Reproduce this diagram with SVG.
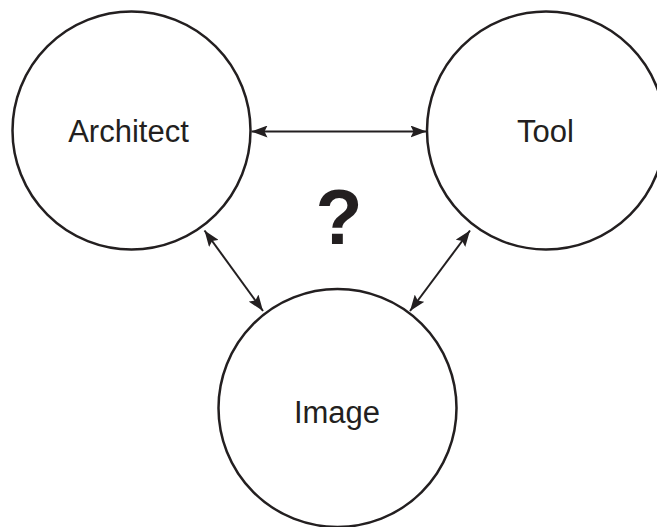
<svg xmlns="http://www.w3.org/2000/svg" width="657" height="527" viewBox="0 0 657 527">
<style>
.node{fill:#fff;stroke:#231f20;stroke-width:2.5}
.lbl{font-family:"Liberation Sans",Arial,sans-serif;font-size:31px;fill:#231f20;text-anchor:middle}
.conn{stroke:#231f20;stroke-width:2;fill:none;marker-start:url(#ah);marker-end:url(#ah)}
</style>
<defs>
<marker id="ah" viewBox="0 0 16 12" refX="16" refY="6" markerWidth="16" markerHeight="12" markerUnits="userSpaceOnUse" orient="auto-start-reverse">
<path d="M0,0 L16,6 L0,12 L3,6 Z" fill="#231f20"/>
</marker>
</defs>
<rect width="657" height="527" fill="#fff"/>
<g id="architect">
<circle class="node" cx="131.5" cy="130.5" r="119"/>
<text class="lbl" x="128.5" y="141.5">Architect</text>
</g>
<g id="tool">
<circle class="node" cx="546" cy="130.5" r="119"/>
<text class="lbl" x="545.5" y="141.5">Tool</text>
</g>
<g id="image">
<circle class="node" cx="337.5" cy="408" r="119"/>
<text class="lbl" x="337" y="423">Image</text>
</g>
<g id="connectors">
<line class="conn" x1="251.5" y1="131.5" x2="426.5" y2="131.5"/>
<line class="conn" x1="204.5" y1="230.5" x2="263" y2="311"/>
<line class="conn" x1="470" y1="230.5" x2="410" y2="311"/>
</g>
<text x="339" y="243.5" font-family="Liberation Sans,Arial,sans-serif" font-weight="bold" font-size="77" fill="#231f20" text-anchor="middle">?</text>
</svg>
